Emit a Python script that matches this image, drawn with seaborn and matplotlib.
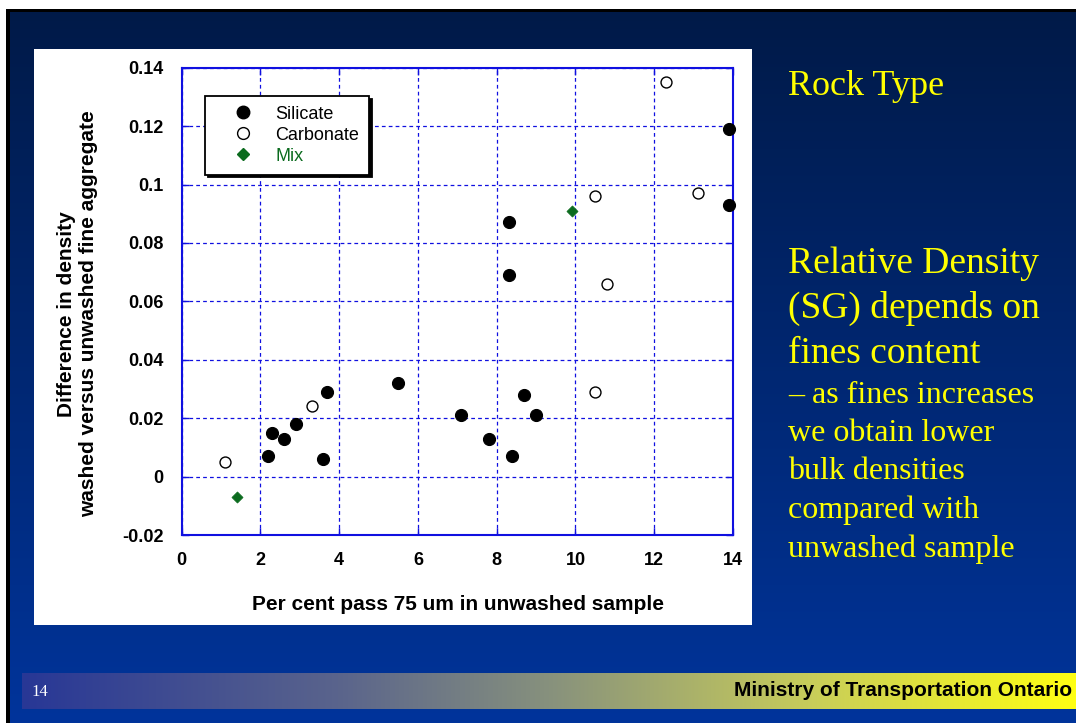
import numpy as np
import pandas as pd
import matplotlib
matplotlib.use("Agg")
import matplotlib.pyplot as plt
from matplotlib.lines import Line2D
from matplotlib.patches import Rectangle
import seaborn as sns

# --- data -------------------------------------------------------------
silicate_x = [2.2, 2.3, 2.6, 2.9, 3.6, 3.7, 5.5, 7.1, 7.8, 8.3, 8.3, 8.4, 8.7, 9.0, 13.9, 13.9]
silicate_y = [0.007, 0.015, 0.013, 0.018, 0.006, 0.029, 0.032, 0.021, 0.013,
              0.087, 0.069, 0.007, 0.028, 0.021, 0.119, 0.093]
carbonate_x = [1.1, 3.3, 10.5, 10.5, 10.8, 12.3, 13.1]
carbonate_y = [0.005, 0.024, 0.029, 0.096, 0.066, 0.135, 0.097]
mix_x = [1.4, 9.9]
mix_y = [-0.007, 0.091]

rock_types = ["Silicate", "Carbonate", "Mix"]
x_ticks = [0, 2, 4, 6, 8, 10, 12, 14]
x_tick_labels = ["0", "2", "4", "6", "8", "10", "12", "14"]
y_ticks = [-0.02, 0.0, 0.02, 0.04, 0.06, 0.08, 0.10, 0.12, 0.14]
y_tick_labels = ["-0.02", "0", "0.02", "0.04", "0.06", "0.08", "0.1", "0.12", "0.14"]

df = pd.concat([
    pd.DataFrame({"fines": silicate_x, "diff": silicate_y, "rock": "Silicate"}),
    pd.DataFrame({"fines": carbonate_x, "diff": carbonate_y, "rock": "Carbonate"}),
    pd.DataFrame({"fines": mix_x, "diff": mix_y, "rock": "Mix"}),
], ignore_index=True)

W, H = 1076, 723
fig = plt.figure(figsize=(W / 100, H / 100), dpi=100)
fig.patch.set_facecolor("white")

# --- slide background (pixel coordinates, origin top-left) -----------
bg = fig.add_axes([0, 0, 1, 1], zorder=-10)
bg.set_xlim(0, W)
bg.set_ylim(H, 0)
bg.axis("off")

top_col = np.array([0, 26, 72]) / 255
bot_col = np.array([0, 52, 155]) / 255
t = np.linspace(0, 1, 256)[:, None]
grad = top_col[None, :] * (1 - t) + bot_col[None, :] * t
grad = np.repeat(grad[:, None, :], 2, axis=1)
bg.imshow(grad, extent=(9, W, H, 11), aspect="auto", interpolation="bilinear", zorder=0)
bg.add_patch(Rectangle((6, 9), W, 3, color="black", lw=0, zorder=1))
bg.add_patch(Rectangle((6, 9), 3.5, H, color="black", lw=0, zorder=1))

# white chart panel
bg.add_patch(Rectangle((34, 48.5), 718, 576.5, color="white", lw=0, zorder=2))

# footer bar with blue-to-yellow gradient
stops = [(0.0, (40, 55, 150)), (0.3, (90, 100, 140)), (0.5, (135, 145, 125)),
         (0.75, (200, 205, 90)), (1.0, (255, 255, 20))]
u = np.linspace(0, 1, 512)
bar = np.zeros((2, 512, 3))
for c in range(3):
    bar[:, :, c] = np.interp(u, [s[0] for s in stops], [s[1][c] / 255 for s in stops])
bg.imshow(bar, extent=(22, W, 709, 673), aspect="auto", interpolation="bilinear", zorder=2)
bg.text(31, 696, "14", color="white", fontsize=12, family="Liberation Serif",
        va="baseline", ha="left", zorder=3)
bg.text(1072, 691, "Ministry of Transportation Ontario", color="black", fontsize=15,
        fontweight="bold", family="Liberation Sans", va="center", ha="right", zorder=3)

# right-hand notes
serif = "Liberation Serif"
yellow = "#ffff00"
bg.text(788, 95, "Rock Type", color=yellow, fontsize=26, family=serif, va="baseline", zorder=3)
for txt, yb in [("Relative Density", 273), ("(SG) depends on", 318), ("fines content", 363)]:
    bg.text(788, yb, txt, color=yellow, fontsize=27, family=serif, va="baseline", zorder=3)
for txt, yb in [("\u2013 as fines increases", 403), ("we obtain lower", 441),
                ("bulk densities", 479), ("compared with", 518), ("unwashed sample", 557)]:
    bg.text(788, yb, txt, color=yellow, fontsize=23, family=serif, va="baseline", zorder=3)

# --- scatter chart ----------------------------------------------------
x0, x1, y0, y1 = 181.7, 733.0, 67.7, 535.0
ax = fig.add_axes([x0 / W, 1 - y1 / H, (x1 - x0) / W, (y1 - y0) / H], zorder=1)
ax.set_facecolor("white")

green = "#0b6b1e"
sns.scatterplot(data=df[df.rock == "Silicate"], x="fines", y="diff", ax=ax, marker="o",
                s=75, color="black", edgecolor="black", linewidth=0.8, clip_on=False, zorder=5)
sns.scatterplot(data=df[df.rock == "Carbonate"], x="fines", y="diff", ax=ax, marker="o",
                s=62, facecolor="white", edgecolor="black", linewidth=1.0, clip_on=False, zorder=5)
sns.scatterplot(data=df[df.rock == "Mix"], x="fines", y="diff", ax=ax, marker="D",
                s=32, color=green, edgecolor=green, linewidth=0.5, clip_on=False, zorder=5)

ax.set_xlim(0, 14)
ax.set_ylim(-0.02, 0.14)
ax.set_xticks(x_ticks)
ax.set_xticklabels(x_tick_labels)
ax.set_yticks(y_ticks)
ax.set_yticklabels(y_tick_labels)
ax.set_xlabel("")
ax.set_ylabel("")

blue = "#1010e0"
ax.grid(True, color=blue, linestyle=(0, (3, 2.5)), linewidth=0.9)
ax.set_axisbelow(True)
for sp in ax.spines.values():
    sp.set_color(blue)
    sp.set_linewidth(1.5)
ax.tick_params(axis="both", direction="in", length=5, width=1, color=blue,
               top=True, right=True, labelcolor="black")
ax.tick_params(axis="x", pad=12)
ax.tick_params(axis="y", pad=13)
for lab in ax.get_xticklabels() + ax.get_yticklabels():
    lab.set_fontweight("bold")
    lab.set_fontsize(13)
    lab.set_family("Liberation Sans")

fig.text(458 / W, 1 - 604 / H, "Per cent pass 75 um in unwashed sample", ha="center",
         va="center", fontsize=15, fontweight="bold", family="Liberation Sans")
fig.text(78 / W, 1 - 314 / H, "Difference in density\nwashed versus unwashed fine aggregate",
         ha="center", va="center", rotation=90, fontsize=15, fontweight="bold",
         family="Liberation Sans", linespacing=1.2, multialignment="center")

handles = [
    Line2D([], [], marker="o", linestyle="none", markersize=9, markerfacecolor="black",
           markeredgecolor="black"),
    Line2D([], [], marker="o", linestyle="none", markersize=8.5, markerfacecolor="white",
           markeredgecolor="black", markeredgewidth=1.0),
    Line2D([], [], marker="D", linestyle="none", markersize=6, markerfacecolor=green,
           markeredgecolor=green),
]
leg = ax.legend(handles, rock_types, loc="upper left", bbox_to_anchor=(0.042, 0.94),
                borderaxespad=0, frameon=True, fancybox=False,
                shadow={"color": "black", "alpha": 1.0},
                prop={"family": "Liberation Sans", "size": 13},
                handlelength=3.1, handletextpad=0.25, borderpad=0.55, labelspacing=0.22)
leg.get_frame().set_edgecolor("black")
leg.get_frame().set_linewidth(1.3)
leg.get_frame().set_alpha(1)
leg.get_texts()[2].set_color(green)
leg.set_zorder(10)

fig.savefig("out.png", dpi=100)
